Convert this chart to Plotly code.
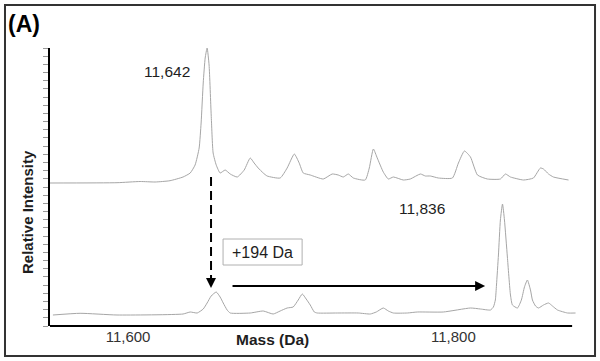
import plotly.graph_objects as go

# ---- data ----
# Upper spectrum: mass (Da) and relative intensity (a.u.)
top_mass = [11552.0, 11593.2, 11607.4, 11616.6, 11625.8, 11633.8, 11638.2, 11641.2, 11643.7,
            11644.9, 11646.2, 11647.4, 11648.6, 11649.8, 11651.1, 11652.3, 11654.2, 11656.6,
            11659.7, 11662.8, 11667.1, 11671.4, 11675.1, 11677.5, 11680.0, 11683.1, 11685.5,
            11693.5, 11697.8, 11702.2, 11705.2, 11707.7, 11712.0, 11720.0, 11725.5, 11729.2,
            11732.3, 11735.4, 11738.5, 11745.8, 11748.3, 11750.8, 11753.2, 11756.9, 11760.0,
            11763.1, 11769.2, 11773.5, 11779.7, 11782.8, 11785.8, 11790.8, 11799.4, 11803.1,
            11806.8, 11810.5, 11814.8, 11820.9, 11828.9, 11832.0, 11835.1, 11843.1, 11849.2,
            11853.5, 11855.4, 11858.5, 11861.5, 11870.8]
top_int = [0, 0.3, 1.5, 1, 2.3, 6, 10, 18, 35,
           60, 100, 125, 135, 118, 68, 30, 18, 10,
           13, 9, 6, 13, 25, 20, 15, 10, 7,
           5, 15, 29, 20, 10, 8, 4, 9, 8,
           6, 9, 5, 3, 15, 34, 25, 11, 4,
           6, 3, 4, 9, 7, 7, 5, 5, 20,
           32, 26, 8, 4, 4, 9, 6, 3, 5,
           15, 14, 9, 6, 3]

# Lower spectrum
bot_mass = [11553.8, 11570.5, 11593.2, 11633.8, 11638.2, 11642.5, 11646.2, 11648.6, 11651.1,
            11654.2, 11656.6, 11658.5, 11660.9, 11662.8, 11675.1, 11683.1, 11689.2, 11693.5,
            11697.8, 11701.5, 11704.6, 11707.1, 11709.5, 11712.0, 11714.5, 11716.3, 11728.6,
            11741.5, 11748.9, 11752.6, 11756.9, 11760.0, 11763.1, 11771.7, 11777.8, 11793.8,
            11810.5, 11816.6, 11822.8, 11824.6, 11825.8, 11826.5, 11827.7, 11828.9, 11830.2,
            11831.4, 11833.2, 11835.1, 11836.3, 11839.4, 11841.8, 11843.7, 11845.5, 11847.4,
            11848.6, 11850.5, 11852.3, 11855.4, 11858.5, 11860.9, 11864.0, 11870.2, 11875.1]
bot_int = [0, 1.7, 0, 1, 3, 2, 6, 12, 19,
           23, 18, 12, 5, 2, 2, 4, 1, 4,
           7, 8, 15, 21, 16, 10, 3, 2, 2,
           2, 1, 3, 7, 4, 2, 2, 3, 3,
           7, 6, 5, 8, 15, 30, 60, 95, 111,
           95, 58, 20, 10, 7, 15, 28, 35, 25,
           15, 9, 7, 10, 12, 9, 5, 2, 2]

x_ticks = [11600, 11800]
x_tick_text = ["11,600", "11,800"]
top_label, bot_label = "11,642", "11,836"
shift_label = "+194 Da"

# ---- layout constants ----
TOP_OFFSET = 143
BOT_OFFSET = 11
X_RANGE = [11552, 11876]
Y_RANGE = [0, 278]
SPEC_COLOR = "#a6a6a6"
TXT = "#1e1e1e"
FONT = "Arial, Liberation Sans, sans-serif"

fig = go.Figure()
fig.add_trace(go.Scatter(x=top_mass, y=[v + TOP_OFFSET for v in top_int], mode="lines",
                         line=dict(color=SPEC_COLOR, width=1, shape="spline", smoothing=0.5),
                         hoverinfo="skip"))
fig.add_trace(go.Scatter(x=bot_mass, y=[v + BOT_OFFSET for v in bot_int], mode="lines",
                         line=dict(color=SPEC_COLOR, width=1, shape="spline", smoothing=0.5),
                         hoverinfo="skip"))

shapes = [
    # outer frame
    dict(type="rect", xref="paper", yref="paper", x0=-0.0854, x1=1.0342, y0=-0.1079, y1=1.1547,
         line=dict(color="#333333", width=2)),
    # x axis line
    dict(type="line", xref="x", yref="paper", x0=11552, x1=11873, y0=0, y1=0,
         line=dict(color="black", width=2)),
    # dashed vertical shift line
    dict(type="line", xref="x", yref="y", x0=11651.0, x1=11651.0, y0=149, y1=44,
         line=dict(color="black", width=2, dash="9px,5px")),
    # +194 Da box
    dict(type="rect", xref="x", yref="y", x0=11658.4, x1=11707.0, y0=61, y1=87,
         line=dict(color="#b0b0b0", width=1)),
]

annotations = [
    dict(text="<b>(A)</b>", xref="paper", yref="paper", x=-0.0835, y=1.086, xanchor="left",
         yanchor="middle", showarrow=False, font=dict(size=23, color="black", family=FONT)),
    dict(text=top_label, xref="x", yref="y", x=11624.0, y=255, showarrow=False,
         font=dict(size=15.5, color=TXT, family=FONT)),
    dict(text=bot_label, xref="x", yref="y", x=11781.0, y=118, showarrow=False,
         font=dict(size=15.5, color=TXT, family=FONT)),
    dict(text=shift_label, xref="x", yref="y", x=11682.5, y=73.5, showarrow=False,
         font=dict(size=16, color=TXT, family=FONT)),
    dict(text="<b>Relative Intensity</b>", xref="paper", yref="paper", x=-0.0436, y=0.41,
         xanchor="center", yanchor="middle",
         textangle=-90, showarrow=False, font=dict(size=15, color=TXT, family=FONT)),
    dict(text="<b>Mass (Da)</b>", xref="paper", yref="paper", x=0.423, y=-0.05,
         xanchor="center", yanchor="middle",
         showarrow=False, font=dict(size=15.5, color=TXT, family=FONT)),
    # arrowhead of the dashed shift line
    dict(text="", xref="x", yref="y", axref="x", ayref="y", x=11651.0, y=38, ax=11651.0, ay=48,
         showarrow=True, arrowhead=2, arrowsize=1, arrowwidth=2, arrowcolor="black"),
    # horizontal arrow
    dict(text="", xref="x", yref="y", axref="x", ayref="y", x=11819.5, y=40, ax=11663.3, ay=40,
         showarrow=True, arrowhead=2, arrowsize=1, arrowwidth=2, arrowcolor="black"),
]

fig.update_layout(
    width=600, height=361,
    margin=dict(l=50, r=23, t=48, b=35),
    paper_bgcolor="white", plot_bgcolor="white",
    showlegend=False,
    shapes=shapes, annotations=annotations,
    xaxis=dict(range=X_RANGE, showgrid=False, zeroline=False, showline=False,
               tickmode="array", tickvals=x_ticks, ticktext=x_tick_text, ticks="",
               tickfont=dict(size=15, color="#333333", family=FONT)),
    yaxis=dict(range=Y_RANGE, showgrid=False, zeroline=False, showline=True,
               linecolor="black", linewidth=2, ticks="outside", ticklen=5, tickwidth=1,
               tickcolor="#999999", tick0=0, dtick=278 / 34, showticklabels=False),
)

fig.write_html("out.html", config={"displayModeBar": False},
               post_script="document.body.style.margin='0px';")
